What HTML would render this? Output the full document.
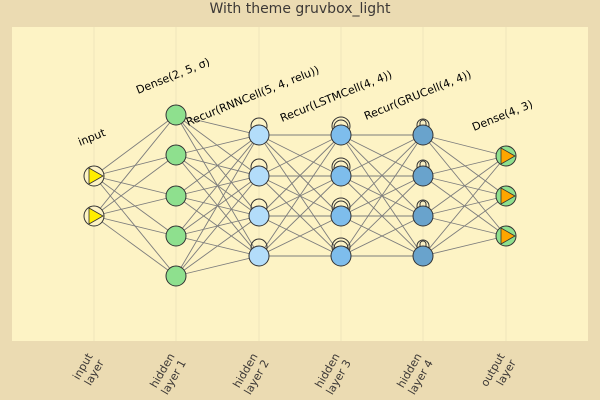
<!DOCTYPE html>
<html><head><meta charset="utf-8"><style>
body{margin:0;background:#ebdbb2;}
svg{display:block;font-family:"DejaVu Sans","Liberation Sans",sans-serif;}
</style></head><body>
<svg id="s" width="600" height="400" xmlns="http://www.w3.org/2000/svg">
<rect width="600" height="400" fill="#ebdbb2"/>
<rect x="12" y="27" width="576" height="314" fill="#fdf3c5"/>
<g stroke="#f0e6bc" stroke-width="1">
<line x1="94" y1="27" x2="94" y2="341"/><line x1="176" y1="27" x2="176" y2="341"/><line x1="259" y1="27" x2="259" y2="341"/><line x1="341" y1="27" x2="341" y2="341"/><line x1="423" y1="27" x2="423" y2="341"/><line x1="506" y1="27" x2="506" y2="341"/>
</g>
<text x="300" y="13" text-anchor="middle" font-size="14" fill="#3c3836">With theme gruvbox_light</text>
<g id="edges" stroke="#7c7c7c" stroke-width="0.9"></g>
<g id="nodes"></g>
<g font-size="11" fill="#000">
<text transform="translate(80,146) rotate(-22)">input</text>
<text transform="translate(138,94) rotate(-22)">Dense(2, 5, σ)</text>
<text transform="translate(188,126) rotate(-22)">Recur(RNNCell(5, 4, relu))</text>
<text transform="translate(282,122) rotate(-22)">Recur(LSTMCell(4, 4))</text>
<text transform="translate(366,120) rotate(-22)">Recur(GRUCell(4, 4))</text>
<text transform="translate(474,131) rotate(-22)">Dense(4, 3)</text>
</g>
<g font-size="11" fill="#3c3836" text-anchor="end">
<text transform="translate(93,356) rotate(-60)"><tspan x="0" dy="0">input</tspan><tspan x="0" dy="13">layer</tspan></text>
<text transform="translate(175,356) rotate(-60)"><tspan x="0" dy="0">hidden</tspan><tspan x="0" dy="13">layer 1</tspan></text>
<text transform="translate(258,356) rotate(-60)"><tspan x="0" dy="0">hidden</tspan><tspan x="0" dy="13">layer 2</tspan></text>
<text transform="translate(340,356) rotate(-60)"><tspan x="0" dy="0">hidden</tspan><tspan x="0" dy="13">layer 3</tspan></text>
<text transform="translate(422,356) rotate(-60)"><tspan x="0" dy="0">hidden</tspan><tspan x="0" dy="13">layer 4</tspan></text>
<text transform="translate(505,356) rotate(-60)"><tspan x="0" dy="0">output</tspan><tspan x="0" dy="13">layer</tspan></text>
</g>
</svg>
<script>
var NS="http://www.w3.org/2000/svg";
var X=[94,176,259,341,423,506];
var Y=[[176,216],[115,155,196,236,276],[135,176,216,256],[135,176,216,256],[135,176,216,256],[156,196,236]];
var E=document.getElementById("edges"),N=document.getElementById("nodes");
function el(t,a,p){var e=document.createElementNS(NS,t);for(var k in a)e.setAttribute(k,a[k]);p.appendChild(e);return e;}
for(var l=0;l<5;l++)for(var i=0;i<Y[l].length;i++)for(var j=0;j<Y[l+1].length;j++)
 el("line",{x1:X[l],y1:Y[l][i],x2:X[l+1],y2:Y[l+1][j]},E);
var fill=["#fdf3c5","#8ee08e","#b3ddfa","#7ebdec","#69a3cc","#8ee08e"];
for(var l=0;l<6;l++)for(var i=0;i<Y[l].length;i++){
 var x=X[l],y=Y[l][i];
 if(l==2)el("circle",{cx:x,cy:y-9,r:8,fill:"none",stroke:"#333","stroke-width":1},N);
 if(l==3){el("circle",{cx:x,cy:y-9,r:9,fill:"none",stroke:"#333","stroke-width":1},N);el("circle",{cx:x,cy:y-8,r:7,fill:"none",stroke:"#333","stroke-width":1},N);}
 if(l==4){el("path",{d:"M"+(x-6)+","+(y-4)+" L"+(x-6)+","+(y-10)+" A6,6 0 0 1 "+(x+6)+","+(y-10)+" L"+(x+6)+","+(y-4),fill:"none",stroke:"#333","stroke-width":1},N);el("path",{d:"M"+(x-3)+","+(y-4)+" L"+(x-3)+","+(y-12)+" A3,3 0 0 1 "+(x+3)+","+(y-12)+" L"+(x+3)+","+(y-4),fill:"none",stroke:"#333","stroke-width":1},N);}
 el("circle",{cx:x,cy:y,r:10,fill:fill[l],stroke:"#333","stroke-width":1},N);
 if(l==0)el("path",{d:"M"+(x-5)+","+(y-8)+" L"+(x+9)+","+y+" L"+(x-5)+","+(y+8)+"Z",fill:"#ffee00",stroke:"#333","stroke-width":0.8},N);
 if(l==5)el("path",{d:"M"+(x-5)+","+(y-8)+" L"+(x+9)+","+y+" L"+(x-5)+","+(y+8)+"Z",fill:"#ffa500",stroke:"#333","stroke-width":0.8},N);
}
</script>
</body></html>
